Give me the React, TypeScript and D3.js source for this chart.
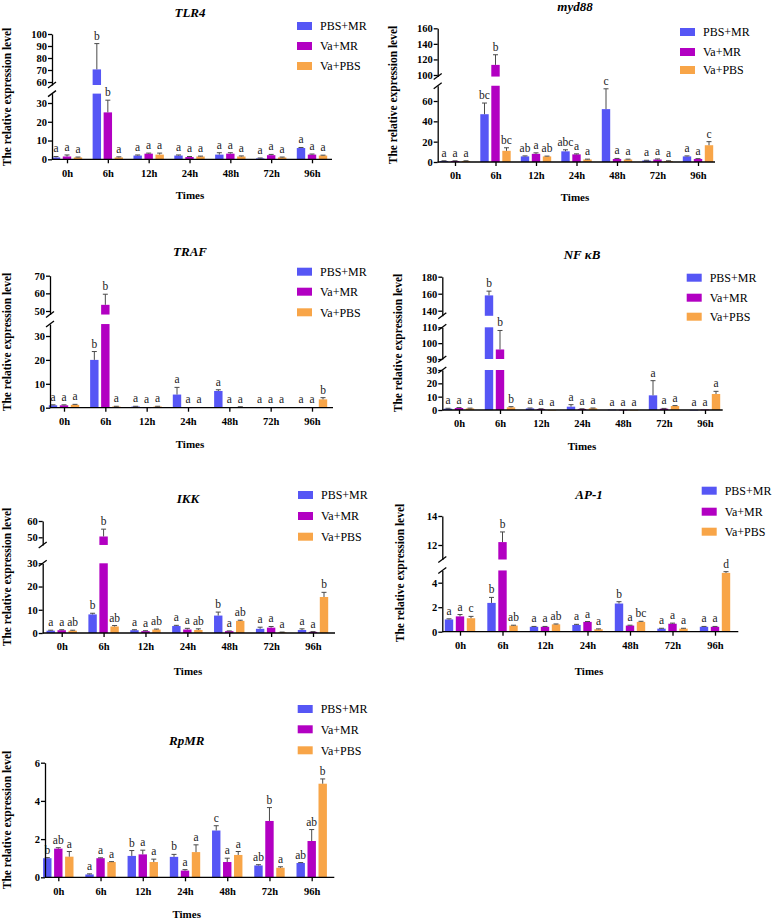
import React, { useEffect, useRef } from "react";
import * as d3 from "d3";

// categories + groups shared by all panels
const times = ["0h", "6h", "12h", "24h", "48h", "72h", "96h"];
const groups = ["PBS+MR", "Va+MR", "Va+PBS"];
const colors = ["#5656f5", "#b200c2", "#f8a548"];

// TLR4 (rows = PBS+MR, Va+MR, Va+PBS)
const tlr4Mean = [
  [1, 70.5, 2, 2, 2.5, 0.5, 6],
  [1.5, 25, 3, 1.2, 3, 2.2, 2.5],
  [1, 1, 2.5, 1.5, 1.5, 1, 2],
];
const tlr4Sd = [
  [0.5, 21.5, 0.3, 0.3, 1, 0.2, 0.3],
  [0.8, 6.5, 0.3, 0.3, 0.5, 0.4, 0.3],
  [0.2, 0.3, 0.8, 0.2, 0.3, 0.2, 0.2],
];
const tlr4Letters = [
  ["a", "b", "a", "a", "a", "a", "a"],
  ["a", "b", "a", "a", "a", "a", "a"],
  ["a", "a", "a", "a", "a", "a", "a"],
];
const tlr4TicksLow = [0, 10, 20, 30];
const tlr4TicksHigh = [60, 70, 80, 90, 100];

// myd88
const myd88Mean = [
  [1, 47, 5.5, 10.5, 52, 1.5, 5.5],
  [1, 113, 8, 7.5, 3, 2.5, 3],
  [1, 11, 5.5, 2.5, 2.5, 1, 16.5],
];
const myd88Sd = [
  [0.2, 11, 0.5, 1.5, 20, 0.2, 0.5],
  [0.2, 13, 1, 0.5, 0.5, 0.5, 0.3],
  [0.2, 3, 0.3, 0.3, 0.3, 0.2, 3.5],
];
const myd88Letters = [
  ["a", "bc", "ab", "abc", "c", "a", "a"],
  ["a", "b", "a", "a", "a", "a", "a"],
  ["a", "bc", "ab", "a", "a", "a", "c"],
];
const myd88TicksLow = [0, 20, 40, 60];
const myd88TicksHigh = [100, 120, 140, 160];

// TRAF
const trafMean = [
  [1, 20, 0.5, 5.5, 7, 0.1, 0.2],
  [1, 53.5, 0.1, 0.1, 0.2, 0.1, 0.1],
  [1.2, 0.5, 0.5, 0.2, 0.3, 0.1, 3.5],
];
const trafSd = [
  [0.2, 3.5, 0.1, 3, 0.5, 0, 0],
  [0.2, 6, 0, 0, 0, 0, 0],
  [0.2, 0.1, 0.1, 0, 0.1, 0, 0.7],
];
const trafLetters = [
  ["a", "b", "a", "a", "a", "a", "a"],
  ["a", "b", "a", "a", "a", "a", "a"],
  ["a", "a", "a", "a", "a", "a", "b"],
];
const trafTicksLow = [0, 10, 20, 30];
const trafTicksHigh = [50, 60, 70];

// NF kB
const nfkbMean = [
  [1, 158, 1.2, 2.5, 0.3, 11, 0.1],
  [1.5, 96, 0.8, 0.8, 0.2, 1, 0.3],
  [1.2, 2, 0.1, 1.3, 0.1, 3, 12],
];
const nfkbSd = [
  [0.3, 5, 0.3, 1.5, 0, 11, 0],
  [0.3, 12, 0.1, 0.1, 0, 0.2, 0],
  [0.2, 0.5, 0, 0.2, 0, 0.3, 2],
];
const nfkbLetters = [
  ["a", "b", "a", "a", "a", "a", "a"],
  ["a", "b", "a", "a", "a", "a", "a"],
  ["a", "b", "a", "a", "a", "a", "a"],
];
const nfkbTicksLow = [0, 10, 20, 30];
const nfkbTicksMid = [90, 100, 110];
const nfkbTicksHigh = [140, 160, 180];

// IKK
const ikkMean = [
  [1, 8, 1.2, 3, 7.5, 1.8, 1.3],
  [1.2, 50.5, 0.8, 1.5, 0.8, 2.3, 0.5],
  [1, 2.8, 1.5, 1.3, 5.2, 0.3, 15.5],
];
const ikkSd = [
  [0.2, 0.5, 0.2, 0.3, 1.5, 0.7, 0.5],
  [0.2, 4.5, 0.2, 0.5, 0.1, 0.5, 0.1],
  [0.2, 0.4, 0.2, 0.5, 0.3, 0.1, 2],
];
const ikkLetters = [
  ["a", "b", "a", "a", "b", "a", "a"],
  ["a", "b", "a", "a", "a", "a", "a"],
  ["ab", "ab", "ab", "ab", "ab", "a", "b"],
];
const ikkTicksLow = [0, 10, 20, 30];
const ikkTicksHigh = [50, 60];

// AP-1
const ap1Mean = [
  [1, 2.35, 0.4, 0.55, 2.3, 0.25, 0.4],
  [1.25, 12.2, 0.4, 0.8, 0.5, 0.65, 0.4],
  [1.1, 0.5, 0.6, 0.2, 0.8, 0.25, 4.8],
];
const ap1Sd = [
  [0.05, 0.45, 0.03, 0.05, 0.15, 0.03, 0.03],
  [0.15, 0.7, 0.03, 0.03, 0.03, 0.05, 0.03],
  [0.15, 0.03, 0.03, 0.03, 0.05, 0.03, 0.1],
];
const ap1Letters = [
  ["a", "b", "a", "a", "b", "a", "a"],
  ["a", "b", "a", "a", "a", "a", "a"],
  ["c", "ab", "ab", "a", "bc", "a", "d"],
];
const ap1TicksLow = [0, 2, 4];
const ap1TicksHigh = [12, 14];

// RpMR
const rpmrMean = [
  [1.0, 0.15, 1.12, 1.07, 2.45, 0.62, 0.75],
  [1.5, 1.0, 1.2, 0.35, 0.8, 2.95, 1.9],
  [1.08, 0.8, 0.8, 1.32, 1.17, 0.5, 4.9],
];
const rpmrSd = [
  [0.03, 0.03, 0.28, 0.13, 0.25, 0.04, 0.02],
  [0.05, 0.02, 0.22, 0.05, 0.2, 0.7, 0.6],
  [0.27, 0.02, 0.15, 0.38, 0.18, 0.05, 0.25],
];
const rpmrLetters = [
  ["b", "a", "b", "b", "c", "ab", "ab"],
  ["ab", "a", "a", "a", "a", "b", "ab"],
  ["a", "a", "a", "a", "a", "a", "b"],
];
const rpmrTicks = [0, 2, 4, 6];

const font = "Liberation Serif";
const barW = 8.4;
const barStep = 11;

// layout of every panel (pixel positions only)
const panels = [
  {
    title: "TLR4", mean: tlr4Mean, sd: tlr4Sd, letters: tlr4Letters,
    ax: 52, axEnd: 332, first: 67, last: 312,
    segs: [
      { ticks: tlr4TicksLow, y0: 159.3, y1: 103, lo: 0, hi: 35 },
      { ticks: tlr4TicksHigh, y0: 82, y1: 34, lo: 57.5, hi: 100 },
    ],
    titleX: 190, titleY: 17, legX: 297, legY: [26, 46, 66], timesY: 199, ylabX: 11, ylabY: 97,
  },
  {
    title: "myd88", mean: myd88Mean, sd: myd88Sd, letters: myd88Letters,
    ax: 437.7, axEnd: 715, first: 455, last: 698,
    segs: [
      { ticks: myd88TicksLow, y0: 162, y1: 101, lo: 0, hi: 75 },
      { ticks: myd88TicksHigh, y0: 75, y1: 28.3, lo: 98, hi: 160 },
    ],
    titleX: 575, titleY: 11, legX: 680, legY: [32, 52, 70], timesY: 201, ylabX: 397, ylabY: 95,
  },
  {
    title: "TRAF", mean: trafMean, sd: trafSd, letters: trafLetters,
    ax: 50, axEnd: 333, first: 64, last: 312,
    segs: [
      { ticks: trafTicksLow, y0: 407.7, y1: 336, lo: 0, hi: 35 },
      { ticks: trafTicksHigh, y0: 311, y1: 275.7, lo: 48, hi: 70 },
    ],
    titleX: 190, titleY: 256, legX: 297, legY: [271.7, 291.7, 312.3], timesY: 448, ylabX: 11, ylabY: 342,
  },
  {
    title: "NF κB", mean: nfkbMean, sd: nfkbSd, letters: nfkbLetters,
    ax: 442.3, axEnd: 722.7, first: 459, last: 705,
    segs: [
      { ticks: nfkbTicksLow, y0: 410, y1: 370, lo: 0, hi: 30 },
      { ticks: nfkbTicksMid, y0: 359, y1: 327.3, lo: 90, hi: 110 },
      { ticks: nfkbTicksHigh, y0: 310.7, y1: 276.7, lo: 134, hi: 180 },
    ],
    titleX: 582, titleY: 259, legX: 686.7, legY: [277.7, 297.7, 316.7], timesY: 450, ylabX: 402, ylabY: 343,
  },
  {
    title: "IKK", mean: ikkMean, sd: ikkSd, letters: ikkLetters,
    ax: 42.7, axEnd: 335, first: 61.7, last: 313,
    segs: [
      { ticks: ikkTicksLow, y0: 633, y1: 563.3, lo: 0, hi: 30 },
      { ticks: ikkTicksHigh, y0: 537.3, y1: 521, lo: 45.3, hi: 60 },
    ],
    titleX: 188, titleY: 502.5, legX: 298, legY: [495, 516, 536.7], timesY: 675, ylabX: 11, ylabY: 577,
  },
  {
    title: "AP-1", mean: ap1Mean, sd: ap1Sd, letters: ap1Letters,
    ax: 442.3, axEnd: 738.3, first: 460, last: 715,
    segs: [
      { ticks: ap1TicksLow, y0: 631.7, y1: 582.7, lo: 0, hi: 5 },
      { ticks: ap1TicksHigh, y0: 545, y1: 516, lo: 11, hi: 14 },
    ],
    titleX: 589, titleY: 498.5, legX: 701.7, legY: [490.7, 511.7, 531.7], timesY: 675, ylabX: 404, ylabY: 573,
  },
  {
    title: "RpMR", mean: rpmrMean, sd: rpmrSd, letters: rpmrLetters,
    ax: 45, axEnd: 334.3, first: 58.3, last: 311.7,
    segs: [{ ticks: rpmrTicks, y0: 877.3, y1: 762.7, lo: 0, hi: 6 }],
    titleX: 186.7, titleY: 744.5, legX: 297.7, legY: [709, 729.3, 750.3], timesY: 918, ylabX: 11, ylabY: 820,
  },
];

function drawPanel(svg: any, p: any) {
  const g = svg.append("g");
  const x = d3.scalePoint<string>().domain(times).range([p.first, p.last]);

  //each axis segment gets its own linear scale
  const segs = p.segs.map((s: any) => {
    const t = d3.scaleLinear().domain([s.ticks[0], s.ticks[s.ticks.length - 1]]).range([s.y0, s.y1]);
    const y = d3.scaleLinear().domain([s.lo, s.hi]).range([t(s.lo), t(s.hi)]);
    return { ...s, y };
  });
  const segOf = (v: number) => segs.find((s: any) => v <= s.hi) || segs[segs.length - 1];

  //bars, error bars, letters
  p.mean.forEach((row: number[], gi: number) => {
    row.forEach((v, ti) => {
      const cx = (x(times[ti]) as number) + (gi - 1) * barStep;
      segs.forEach((s: any) => {
        if (v <= s.lo) return;
        const top = Math.min(v, s.hi);
        g.append("rect")
          .attr("x", cx - barW / 2)
          .attr("y", s.y(top))
          .attr("width", barW)
          .attr("height", Math.max(0.6, s.y(s.lo) - s.y(top)))
          .attr("fill", colors[gi]);
      });
      const sd = p.sd[gi][ti];
      const s = segOf(v);
      const yv = s.y(Math.min(v, s.hi));
      const ye = s.y(Math.min(v + sd, s.hi));
      if (sd > 0) {
        g.append("line").attr("x1", cx).attr("x2", cx).attr("y1", yv).attr("y2", ye)
          .attr("stroke", "#4a4a4a").attr("stroke-width", 1);
        g.append("line").attr("x1", cx - 2.5).attr("x2", cx + 2.5).attr("y1", ye).attr("y2", ye)
          .attr("stroke", "#4a4a4a").attr("stroke-width", 1);
      }
      g.append("text")
        .attr("x", cx)
        .attr("y", ye - 4)
        .attr("text-anchor", "middle")
        .style("font-family", font)
        .style("font-size", "11.5px")
        .attr("fill", "#222")
        .text(p.letters[gi][ti]);
    });
  });

  //y axis segments with break marks
  segs.forEach((s: any, i: number) => {
    const ag = g.append("g")
      .attr("transform", `translate(${p.ax},0)`)
      .call(d3.axisLeft(s.y).tickValues(s.ticks).tickSize(4).tickSizeOuter(0).tickPadding(1).tickFormat(d3.format("d")));
    ag.attr("font-family", null).attr("font-size", null);
    ag.selectAll("text").style("font-family", font).style("font-size", "10.5px").style("font-weight", "bold");
    ag.select(".domain").attr("stroke-width", 1.3);
    ag.selectAll(".tick line").attr("stroke-width", 1.3);
    const marks: number[] = [];
    if (i > 0) marks.push(s.y(s.lo));
    if (i < segs.length - 1) marks.push(s.y(s.hi));
    marks.forEach((my) => {
      g.append("line")
        .attr("x1", p.ax - 4).attr("y1", my + 3)
        .attr("x2", p.ax + 4).attr("y2", my - 3)
        .attr("stroke", "black").attr("stroke-width", 1.3);
    });
  });

  //x axis
  const base = segs[0].y(0);
  const xg = g.append("g")
    .attr("transform", `translate(0,${base})`)
    .call(d3.axisBottom(x).tickSize(4).tickSizeOuter(0).tickPadding(6));
  xg.attr("font-family", null).attr("font-size", null);
  xg.selectAll("text").style("font-family", font).style("font-size", "10.5px").style("font-weight", "bold");
  xg.select(".domain").remove();
  xg.selectAll(".tick line").attr("stroke-width", 1.3);
  g.append("line").attr("x1", p.ax).attr("x2", p.axEnd).attr("y1", base).attr("y2", base)
    .attr("stroke", "black").attr("stroke-width", 1.3);

  //title
  g.append("text")
    .attr("x", p.titleX).attr("y", p.titleY)
    .attr("text-anchor", "middle")
    .style("font-family", font).style("font-size", "13px")
    .style("font-weight", "bold").style("font-style", "italic")
    .text(p.title);

  //x label
  g.append("text")
    .attr("x", p.titleX).attr("y", p.timesY)
    .attr("text-anchor", "middle")
    .style("font-family", font).style("font-size", "11px").style("font-weight", "bold")
    .text("Times");

  //y label
  g.append("text")
    .attr("transform", `translate(${p.ylabX},${p.ylabY}) rotate(-90)`)
    .attr("text-anchor", "middle")
    .style("font-family", font).style("font-size", "11.5px").style("font-weight", "bold")
    .text("The relative expression level");

  //legend
  groups.forEach((name, gi) => {
    g.append("rect")
      .attr("x", p.legX).attr("y", p.legY[gi] - 4)
      .attr("width", 15).attr("height", 8)
      .attr("fill", colors[gi]);
    g.append("text")
      .attr("x", p.legX + 23).attr("y", p.legY[gi] + 4.3)
      .style("font-family", font).style("font-size", "12px")
      .text(name);
  });
}

export default function App() {
  const svgRef = useRef<SVGSVGElement>(null);

  useEffect(() => {
    const svg = d3.select(svgRef.current);
    svg.selectAll("*").remove();
    svg.append("rect").attr("width", 778).attr("height", 919).attr("fill", "white");
    panels.forEach((p) => drawPanel(svg, p));
  }, []);

  return (
    <svg
      ref={svgRef}
      width={778}
      height={919}
      style={{ position: "absolute", left: 0, top: 0, display: "block", fontFamily: font }}
    />
  );
}
